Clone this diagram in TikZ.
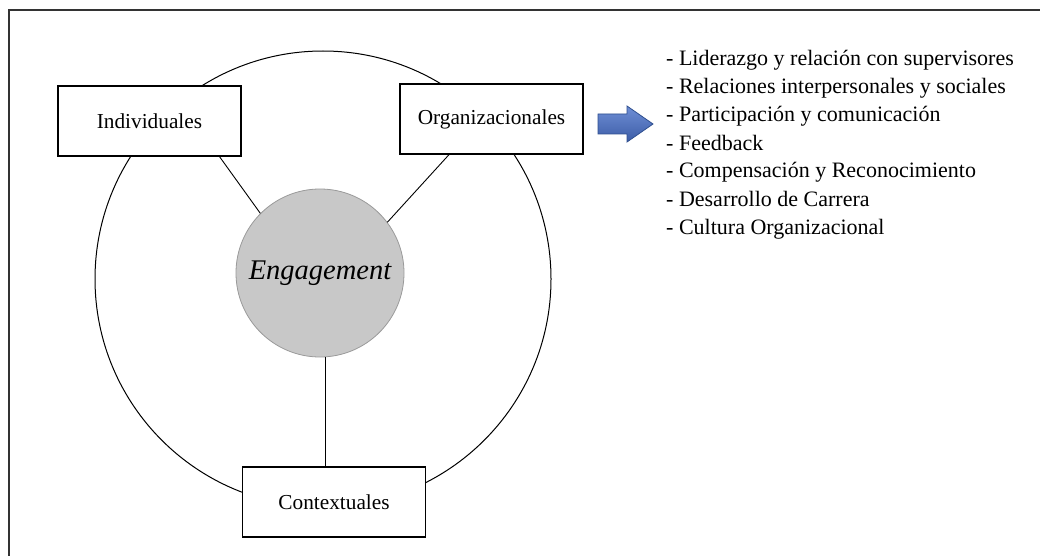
\documentclass[tikz,border=0pt]{standalone}
\usepackage{fontspec}
\setmainfont{Liberation Serif}
\usetikzlibrary{calc}
\definecolor{framegray}{HTML}{333333}
\definecolor{enggray}{HTML}{C8C8C8}
\definecolor{engedge}{HTML}{9A9A9A}
\definecolor{arrowtop}{HTML}{6F8FD6}
\definecolor{arrowbot}{HTML}{3C5CA6}
\definecolor{arrowedge}{HTML}{2F4F8F}
\tikzset{
  factorbox/.style={draw=black, line width=1.4pt, fill=white, minimum width=183pt, minimum height=70pt, inner sep=0pt, font=\fontsize{21.3}{25}\selectfont},
  listitem/.style={anchor=base west, inner sep=0pt, font=\fontsize{22}{26}\selectfont},
  link/.style={draw=black, line width=0.9pt}
}
\begin{document}
\begin{tikzpicture}[x=1pt,y=-1pt]
\useasboundingbox (0,0) rectangle (1040,556);
\fill[white] (0,0) rectangle (1040,556);
% frame
\draw[framegray, line width=2pt] (9,556) -- (9,10) -- (1040,10);
% big circle
\node[circle, draw=black, line width=1pt, minimum size=456pt, inner sep=0pt] (ring) at (323,279) {};
% engagement
\node[circle, draw=engedge, fill=enggray, line width=0.8pt, minimum size=168pt, inner sep=0pt, font=\fontsize{28.5}{31}\selectfont\itshape] (eng) at (320,273) {Engagement};
% boxes
\node[factorbox] (ind) at (149.5,121) {Individuales};
\node[factorbox] (org) at (491.5,119) {Organizacionales};
\node[factorbox] (ctx) at (334,502) {Contextuales};
% connectors
\draw[link] (ind.-27.4) -- (eng.135);
\draw[link] (org.-140.3) -- (eng.37);
\draw[link] (eng.-86) -- (eng.-86 |- ctx.north);
% arrow
\draw[arrowedge, line width=0.8pt, top color=arrowtop, bottom color=arrowbot]
  (598,114) -- (627,114) -- (627,106) -- (653,124) -- (627,142) -- (627,134) -- (598,134) -- cycle;
% list
\node[listitem] (l1) at (666,66) {- Liderazgo y relación con supervisores};
\node[listitem] (l2) at (666,94) {- Relaciones interpersonales y sociales};
\node[listitem] (l3) at (666,122) {- Participación y comunicación};
\node[listitem] (l4) at (666,150) {- Feedback};
\node[listitem] (l5) at (666,178) {- Compensación y Reconocimiento};
\node[listitem] (l6) at (666,206) {- Desarrollo de Carrera};
\node[listitem] (l7) at (666,234) {- Cultura Organizacional};
\end{tikzpicture}
\end{document}
